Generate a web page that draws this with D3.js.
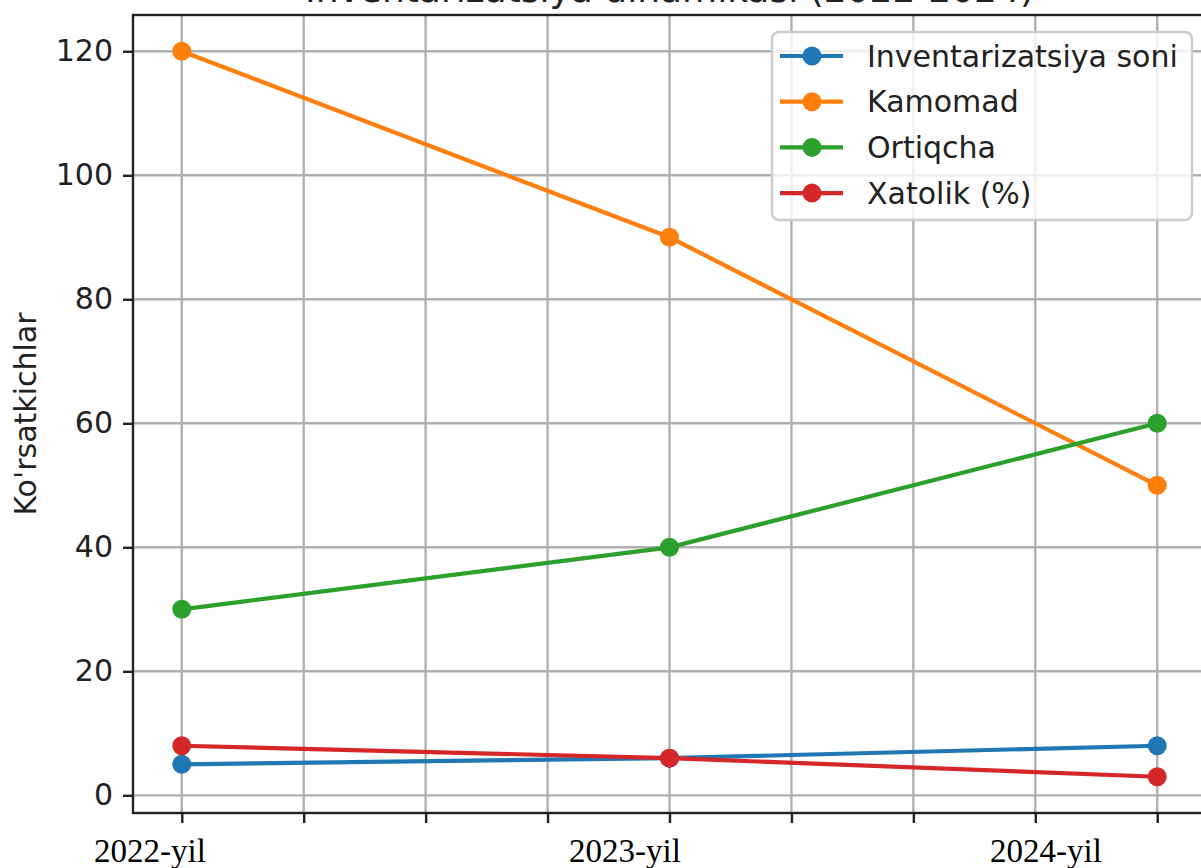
<!DOCTYPE html>
<html>
<head>
<meta charset="utf-8">
<script src="https://cdn.jsdelivr.net/npm/d3@7/dist/d3.min.js"></script>
<style>
  html, body { margin: 0; padding: 0; background: #fff; overflow: hidden; }
  svg { display: block; }
</style>
</head>
<body>
<svg id="chart" width="1201" height="868"></svg>
<script>
// ---- data ----
const categories = ["2022-yil", "2023-yil", "2024-yil"];
const xValues = [0, 1, 2];
const seriesNames = ["Inventarizatsiya soni", "Kamomad", "Ortiqcha", "Xatolik (%)"];
const inventarizatsiya = [5, 6, 8];
const kamomad = [120, 90, 50];
const ortiqcha = [30, 40, 60];
const xatolik = [8, 6, 3];
const yTicks = [0, 20, 40, 60, 80, 100, 120];
const xTicks = [0, 0.25, 0.5, 0.75, 1, 1.25, 1.5, 1.75, 2];
const titleText = "Inventarizatsiya dinamikasi (2022-2024)";
const yLabel = "Ko'rsatkichlar";

(function () {
// ---- layout ----
const pLeft = 133, pRight = 1206, pTop = 15, pBottom = 813;
const colors = ["#1f77b4", "#ff7f0e", "#2ca02c", "#d62728"];
const catLabelX = [150, 625, 1046]; // where the category captions sit
const fs = 30;

const svg = d3.select("#chart");
const x = d3.scaleLinear().domain([-0.1, 2.1]).range([pLeft, pRight]);
const y = d3.scaleLinear().domain([-2.85, 125.85]).range([pBottom, pTop]);

// grid
const grid = svg.append("g");
grid.selectAll("line.gx").data(xTicks).join("line").attr("class", "gx")
  .attr("x1", d => x(d)).attr("x2", d => x(d))
  .attr("y1", pTop).attr("y2", pBottom)
  .attr("stroke", "#b0b0b0").attr("stroke-width", 2.4);
grid.selectAll("line.gy").data(yTicks).join("line").attr("class", "gy")
  .attr("x1", pLeft).attr("x2", pRight)
  .attr("y1", d => y(d)).attr("y2", d => y(d))
  .attr("stroke", "#b0b0b0").attr("stroke-width", 2.4);

// axes
const yAxis = d3.axisLeft(y).tickValues(yTicks).tickSize(10).tickPadding(10).tickFormat(d3.format("d"));
const gy = svg.append("g").attr("transform", `translate(${pLeft},0)`).call(yAxis);
gy.select(".domain").remove();
gy.selectAll(".tick line").attr("stroke", "#222").attr("stroke-width", 2.4);
gy.selectAll(".tick text").attr("font-family", "DejaVu Sans").attr("font-size", fs).attr("fill", "#222");

const xAxis = d3.axisBottom(x).tickValues(xTicks).tickSize(10).tickFormat("");
const gx = svg.append("g").attr("transform", `translate(0,${pBottom})`).call(xAxis);
gx.select(".domain").remove();
gx.selectAll(".tick line").attr("stroke", "#222").attr("stroke-width", 2.4);

// spines
svg.append("rect").attr("x", pLeft).attr("y", pTop)
  .attr("width", pRight - pLeft).attr("height", pBottom - pTop)
  .attr("fill", "none").attr("stroke", "#222").attr("stroke-width", 2.4);

// series
const allSeries = [inventarizatsiya, kamomad, ortiqcha, xatolik];
const line = d3.line().x((d, i) => x(xValues[i])).y(d => y(d));
allSeries.forEach((vals, si) => {
  const g = svg.append("g");
  g.append("path").datum(vals).attr("d", line)
    .attr("fill", "none").attr("stroke", colors[si]).attr("stroke-width", 4.2);
  g.selectAll("circle").data(vals).join("circle")
    .attr("cx", (d, i) => x(xValues[i])).attr("cy", d => y(d))
    .attr("r", 9.5).attr("fill", colors[si]);
});

// legend
const lg = svg.append("g");
lg.append("rect").attr("x", 772).attr("y", 32).attr("width", 420).attr("height", 188)
  .attr("rx", 7).attr("fill", "#fff").attr("fill-opacity", 0.8)
  .attr("stroke", "#cccccc").attr("stroke-width", 2.4);
seriesNames.forEach((name, i) => {
  const cy = 56 + i * 45.7;
  lg.append("line").attr("x1", 780).attr("x2", 843).attr("y1", cy).attr("y2", cy)
    .attr("stroke", colors[i]).attr("stroke-width", 4.2);
  lg.append("circle").attr("cx", 812).attr("cy", cy).attr("r", 9.5).attr("fill", colors[i]);
  lg.append("text").attr("x", 867).attr("y", cy + 10.5)
    .attr("font-family", "DejaVu Sans").attr("font-size", fs).attr("fill", "#222")
    .text(name);
});

// y label
svg.append("text")
  .attr("transform", `translate(36,${(pTop + pBottom) / 2}) rotate(-90)`)
  .attr("text-anchor", "middle")
  .attr("font-family", "DejaVu Sans").attr("font-size", fs).attr("fill", "#222")
  .text(yLabel);

// title (almost entirely above the visible frame)
svg.append("text").attr("x", (pLeft + pRight) / 2).attr("y", 2)
  .attr("text-anchor", "middle")
  .attr("font-family", "DejaVu Sans").attr("font-size", 36).attr("fill", "#222")
  .text(titleText);

// category captions
svg.selectAll("text.cat").data(categories).join("text")
  .attr("class", "cat")
  .attr("x", (d, i) => catLabelX[i]).attr("y", 862)
  .attr("text-anchor", "middle")
  .attr("font-family", "Liberation Serif").attr("font-size", 33).attr("fill", "#000")
  .text(d => d);
})();
</script>
</body>
</html>
